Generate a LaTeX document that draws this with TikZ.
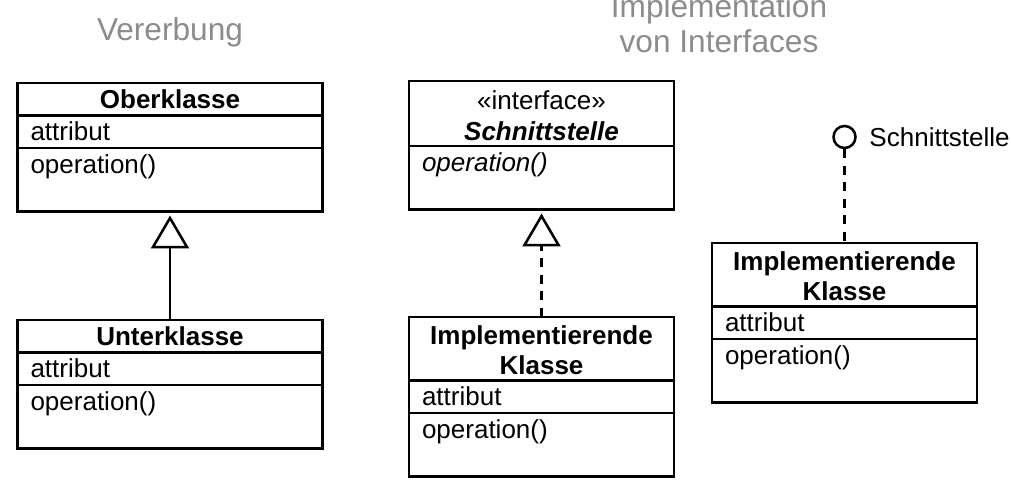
\documentclass[tikz,border=0pt]{standalone}
\usepackage{fontspec}
\setmainfont{Liberation Sans}
\usepackage{tikz}
\usetikzlibrary{arrows.meta, positioning}

\definecolor{titelgrau}{gray}{0.55}
\newcommand{\klein}{\fontsize{7.4}{8.54}\selectfont}

\tikzset{
  box/.style={draw, line width=0.72pt, inner xsep=0.13cm, inner ysep=0pt, outer sep=0pt,
    text height=0.255cm, text depth=0.07cm, font=\klein},
  kopf/.style={box, text width=#1, align=center, font=\klein\bfseries},
  fach/.style={box, text width=#1, align=left},
  titel/.style={text=titelgrau, align=center, inner sep=0pt, font=\fontsize{9}{10.24}\selectfont},
  lolli/.style={circle, draw, line width=0.72pt, minimum size=0.22cm, inner sep=0pt},
  erbt/.style={-{Triangle[open, length=0.33cm, width=0.38cm]}, shorten >=0.04cm, line width=0.72pt},
  gestrichelt/.style={line width=0.72pt, dash pattern=on 0.09cm off 0.075cm}
}

\begin{document}
\begin{tikzpicture}
\useasboundingbox (0,0) rectangle (10.11,-4.80);
% Ueberschriften
\node[titel, anchor=base] (t1) at (1.70,-0.41) {Vererbung};
\node[titel, anchor=base] (t2) at (7.19,-0.53) {Implementation\\von Interfaces};

% Vererbung
\node[kopf=2.79cm, anchor=north] (ober) at (1.70,-0.83) {Oberklasse};
\node[fach=2.79cm, below=0pt of ober] (oberA) {attribut};
\node[fach=2.79cm, below=0pt of oberA, text depth=0.38cm] (oberO) {operation()};

\node[kopf=2.79cm, anchor=north] (unter) at (1.70,-3.20) {Unterklasse};
\node[fach=2.79cm, below=0pt of unter] (unterA) {attribut};
\node[fach=2.79cm, below=0pt of unterA, text depth=0.38cm] (unterO) {operation()};
\draw[erbt] (unter) -- (oberO);

% Interface, ausfuehrlich
\node[kopf=2.39cm, anchor=north, text height=0.29cm, text depth=0.36cm] (iface) at (5.415,-0.81) {{\mdseries «interface»}\\\textit{Schnittstelle}};
\node[fach=2.39cm, below=0pt of iface, text depth=0.38cm] (ifaceO) {\textit{operation()}};

\node[kopf=2.39cm, anchor=north, text height=0.275cm, text depth=0.36cm] (impl) at (5.415,-3.17) {Implementierende\\Klasse};
\node[fach=2.39cm, below=0pt of impl] (implA) {attribut};
\node[fach=2.39cm, below=0pt of implA, text depth=0.38cm] (implO) {operation()};
\draw[erbt, gestrichelt] (impl) -- (ifaceO);

% Interface, kurz (Lollipop)
\node[lolli] (lolli) at (8.445,-1.37) {};
\node[right=0.12cm of lolli, inner sep=0pt, font=\klein] (lolliT) {Schnittstelle};
\node[kopf=2.39cm, anchor=north, text height=0.275cm, text depth=0.36cm] (implr) at (8.445,-2.43) {Implementierende\\Klasse};
\node[fach=2.39cm, below=0pt of implr] (implrA) {attribut};
\node[fach=2.39cm, below=0pt of implrA, text depth=0.38cm] (implrO) {operation()};
\draw[gestrichelt] (lolli) -- (implr);
\end{tikzpicture}
\end{document}
